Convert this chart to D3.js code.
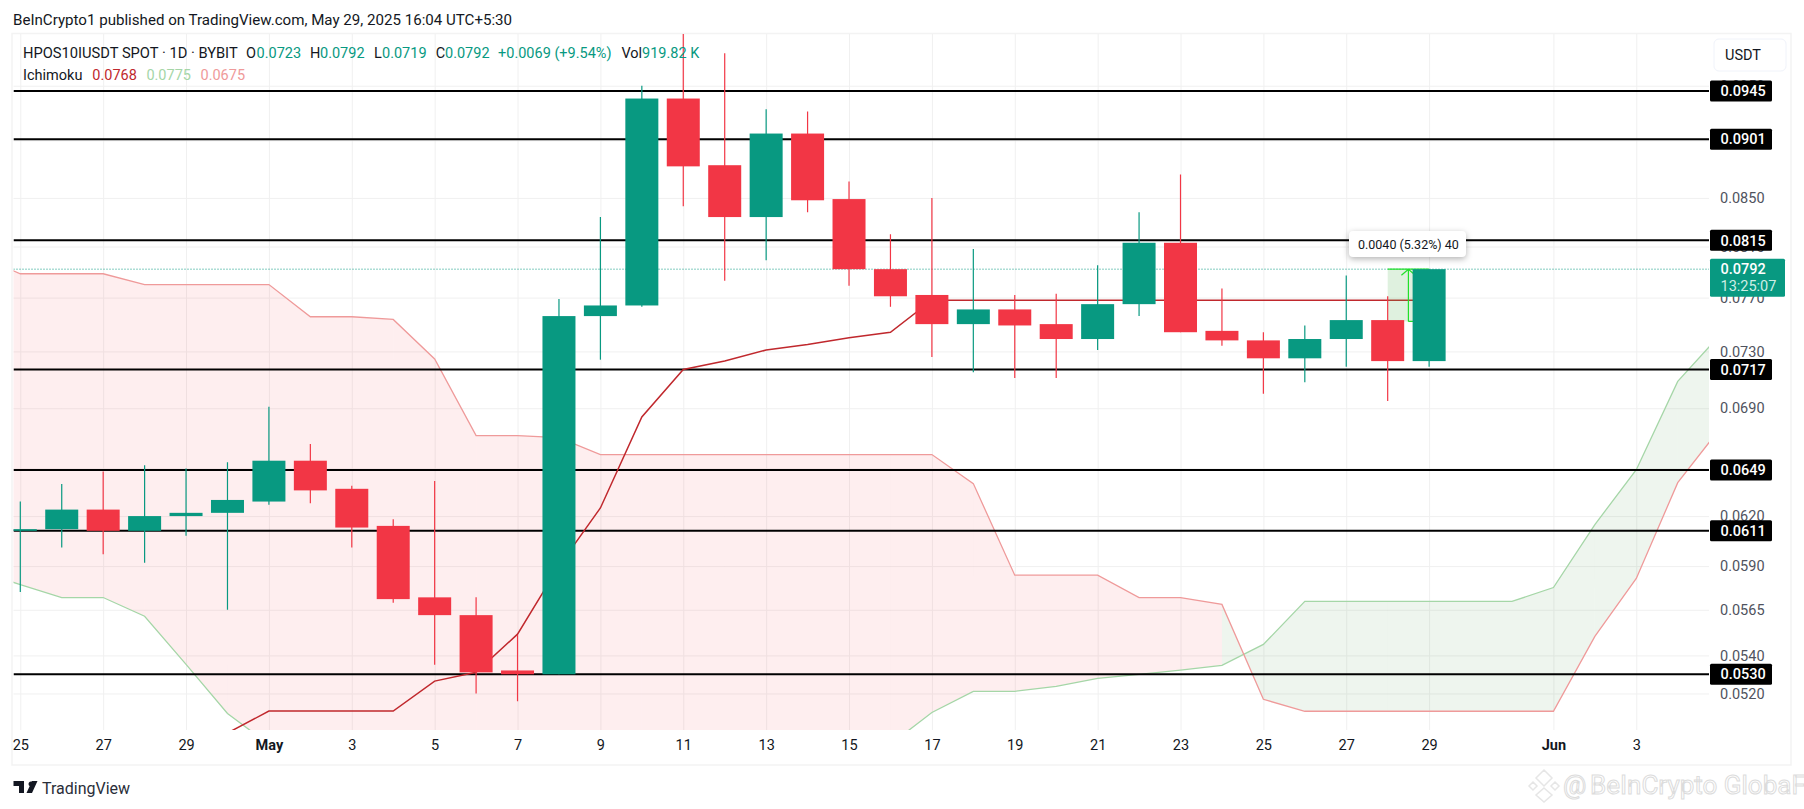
<!DOCTYPE html>
<html>
<head>
<meta charset="utf-8">
<script src="https://cdn.jsdelivr.net/npm/d3@7"></script>
<style>
  html, body { margin: 0; padding: 0; background: #fff; }
  svg { display: block; }
  text { font-family: Roboto, sans-serif; }
</style>
</head>
<body>
<div id="chart"></div>
<script>
// Daily candles, Apr 25 to May 29
var candleStart = '2025-04-25';
var opens = [0.0611, 0.0612, 0.0624, 0.0611, 0.0620, 0.0622, 0.0629, 0.0655, 0.0637, 0.0614, 0.0572, 0.0562, 0.0532, 0.0530, 0.0756, 0.0764, 0.0938, 0.0878, 0.0834, 0.0906, 0.0849, 0.0792, 0.0772, 0.0750, 0.0761, 0.0750, 0.0739, 0.0765, 0.0813, 0.0745, 0.0738, 0.0725, 0.0739, 0.0753, 0.0723];
var highs = [0.0629, 0.0640, 0.0648, 0.0652, 0.0650, 0.0654, 0.0691, 0.0666, 0.0639, 0.0618, 0.0642, 0.0572, 0.0551, 0.0769, 0.0834, 0.0950, 0.1000, 0.0981, 0.0928, 0.0926, 0.0864, 0.0820, 0.0850, 0.0808, 0.0772, 0.0773, 0.0795, 0.0838, 0.0870, 0.0777, 0.0744, 0.0749, 0.0787, 0.0771, 0.0792];
var lows = [0.0575, 0.0601, 0.0597, 0.0592, 0.0608, 0.0565, 0.0627, 0.0628, 0.0601, 0.0569, 0.0535, 0.0520, 0.0516, 0.0530, 0.0724, 0.0763, 0.0843, 0.0783, 0.0799, 0.0838, 0.0779, 0.0763, 0.0726, 0.0715, 0.0711, 0.0711, 0.0731, 0.0756, 0.0744, 0.0734, 0.0700, 0.0708, 0.0719, 0.0695, 0.0719];
var closes = [0.0612, 0.0624, 0.0611, 0.0620, 0.0622, 0.0630, 0.0655, 0.0636, 0.0613, 0.0571, 0.0562, 0.0531, 0.0530, 0.0756, 0.0764, 0.0938, 0.0877, 0.0834, 0.0906, 0.0848, 0.0792, 0.0771, 0.0750, 0.0761, 0.0749, 0.0739, 0.0765, 0.0813, 0.0744, 0.0738, 0.0725, 0.0739, 0.0753, 0.0723, 0.0792];

// Ichimoku base line, Apr 30 to May 29
var baseStart = '2025-04-30';
var baseLine = [0.05000, 0.05110, 0.05110, 0.05110, 0.05110, 0.05264, 0.05310, 0.05515, 0.05900, 0.06250, 0.06840, 0.07170, 0.07230, 0.07310, 0.07350, 0.07400, 0.07440, 0.07680, 0.07680, 0.07680, 0.07680, 0.07680, 0.07680, 0.07680, 0.07680, 0.07680, 0.07680, 0.07680, 0.07680, 0.07680];

// Ichimoku cloud, Apr 24 to Jun 5
var cloudStart = '2025-04-24';
var leadA = [0.05868, 0.05793, 0.05719, 0.05719, 0.05614, 0.05352, 0.05098, 0.04944, 0.04944, 0.04944, 0.04944, 0.04944, 0.04944, 0.04944, 0.04944, 0.04944, 0.04944, 0.04944, 0.04944, 0.04944, 0.04944, 0.04944, 0.04944, 0.05103, 0.05211, 0.05211, 0.05237, 0.05278, 0.05299, 0.05322, 0.05347, 0.05459, 0.05697, 0.05697, 0.05697, 0.05697, 0.05697, 0.05697, 0.05776, 0.06148, 0.06492, 0.07086, 0.07414];
var leadB = [0.08025, 0.07884, 0.07884, 0.07884, 0.07800, 0.07800, 0.07800, 0.07800, 0.07555, 0.07555, 0.07535, 0.07245, 0.06715, 0.06715, 0.06702, 0.06590, 0.06590, 0.06590, 0.06590, 0.06590, 0.06590, 0.06590, 0.06590, 0.06590, 0.06403, 0.05847, 0.05847, 0.05847, 0.05719, 0.05719, 0.05680, 0.05170, 0.05109, 0.05109, 0.05109, 0.05109, 0.05109, 0.05109, 0.05109, 0.05503, 0.05828, 0.06409, 0.06755];

// Axis ticks
var priceTicks = [0.0950, 0.0900, 0.0850, 0.0810, 0.0770, 0.0730, 0.0690, 0.0650, 0.0620, 0.0590, 0.0565, 0.0540, 0.0520];
var dateTicks = ['2025-04-25', '2025-04-27', '2025-04-29', '2025-05-01', '2025-05-03', '2025-05-05', '2025-05-07', '2025-05-09', '2025-05-11', '2025-05-13', '2025-05-15', '2025-05-17', '2025-05-19', '2025-05-21', '2025-05-23', '2025-05-25', '2025-05-27', '2025-05-29', '2025-06-01', '2025-06-03'];

// Support and resistance levels drawn by hand on the chart
var levels = [0.0945, 0.0901, 0.0815, 0.0717, 0.0649, 0.0611, 0.0530];
var lastPrice = 0.0792;
var countdown = '13:25:07';
var measureFrom = 0.0752;
var measureDates = ['2025-05-28', '2025-05-29'];

var GREEN = '#089981', RED = '#f23645', INK = '#131722';
var paneLeft = 13.5, paneRight = 1709, paneTop = 34, paneBottom = 730;

var parseDay = d3.utcParse('%Y-%m-%d');
var x = d3.scaleUtc()
  .domain([parseDay('2025-04-25'), parseDay('2025-06-03')])
  .range([20.3, 1636.3]);
var y = d3.scaleLog()
  .domain([0.05015, 0.1])
  .range([paneBottom, paneTop]);

function dayOffset(start, i) {
  return d3.utcDay.offset(parseDay(start), i);
}

var svg = d3.select('#chart').append('svg')
  .attr('width', 1804)
  .attr('height', 809);

svg.append('clipPath').attr('id', 'pane')
  .append('rect')
  .attr('x', paneLeft).attr('y', paneTop)
  .attr('width', paneRight - paneLeft).attr('height', paneBottom - paneTop);

// Outer frame
svg.append('rect')
  .attr('x', 12).attr('y', 33.5)
  .attr('width', 1779).attr('height', 731.5)
  .attr('fill', 'none')
  .attr('stroke', '#f3f3f3')
  .attr('stroke-width', 1.5);

// Grid
svg.append('g')
  .attr('class', 'grid')
  .attr('transform', `translate(${paneLeft},0)`)
  .call(d3.axisLeft(y).tickValues(priceTicks).tickSize(-(paneRight - paneLeft)).tickFormat(''));
svg.append('g')
  .attr('class', 'grid')
  .attr('transform', `translate(0,${paneBottom})`)
  .call(d3.axisBottom(x).tickValues(dateTicks.map(parseDay)).tickSize(-(paneBottom - paneTop)).tickFormat(''));
svg.selectAll('.grid .domain').remove();
svg.selectAll('.grid line').attr('stroke', '#f0f0f0').attr('stroke-width', 1);

var plot = svg.append('g').attr('clip-path', 'url(#pane)');

// Cloud, one segment per day, coloured by the later bar
var cloudArea = d3.area()
  .x((d) => x(d.date))
  .y0((d) => y(d.a))
  .y1((d) => y(d.b));
var cloud = leadA.map((a, i) => ({ date: dayOffset(cloudStart, i), a: a, b: leadB[i] }));
plot.append('g')
  .selectAll('path')
  .data(d3.pairs(cloud))
  .join('path')
  .attr('d', (d) => cloudArea(d))
  .attr('fill', (d) => (d[1].a > d[1].b ? '#388e3c' : RED))
  .attr('fill-opacity', 0.088);

var cloudLine = d3.line().x((d) => x(d.date));
plot.append('path')
  .attr('d', cloudLine.y((d) => y(d.a))(cloud))
  .attr('fill', 'none')
  .attr('stroke', '#a5d6a7')
  .attr('stroke-width', 1.3);
plot.append('path')
  .attr('d', cloudLine.y((d) => y(d.b))(cloud))
  .attr('fill', 'none')
  .attr('stroke', '#ef9a9a')
  .attr('stroke-width', 1.3);

// Horizontal levels
plot.append('g')
  .selectAll('line')
  .data(levels)
  .join('line')
  .attr('x1', paneLeft).attr('x2', paneRight)
  .attr('y1', (d) => y(d)).attr('y2', (d) => y(d))
  .attr('stroke', '#000')
  .attr('stroke-width', 2);

// Last price line
plot.append('line')
  .attr('x1', paneLeft).attr('x2', paneRight)
  .attr('y1', y(lastPrice)).attr('y2', y(lastPrice))
  .attr('stroke', GREEN)
  .attr('stroke-width', 1)
  .attr('stroke-dasharray', '1 2');

// Base line
plot.append('path')
  .attr('d', d3.line()
    .x((d, i) => x(dayOffset(baseStart, i)))
    .y((d) => y(d))(baseLine))
  .attr('fill', 'none')
  .attr('stroke', '#c0282d')
  .attr('stroke-width', 1.5);

// Measure tool sits under the candles
var mx0 = x(parseDay(measureDates[0])), mx1 = x(parseDay(measureDates[1]));
var mxm = (mx0 + mx1) / 2;
var measure = plot.append('g');
measure.append('rect')
  .attr('x', mx0).attr('y', y(lastPrice))
  .attr('width', mx1 - mx0).attr('height', y(measureFrom) - y(lastPrice))
  .attr('fill', '#4caf50')
  .attr('fill-opacity', 0.18);
measure.append('path')
  .attr('d', `M${mx0},${y(lastPrice)}H${mx1}M${mxm},${y(measureFrom)}H${mx1}M${mxm},${y(measureFrom)}V${y(lastPrice)}M${mxm - 7},${y(lastPrice) + 6}L${mxm},${y(lastPrice)}L${mxm + 7},${y(lastPrice) + 6}`)
  .attr('fill', 'none')
  .attr('stroke', '#22e02a')
  .attr('stroke-width', 1.2);

// Candles
var candles = opens.map((o, i) => ({
  date: dayOffset(candleStart, i), open: o, high: highs[i], low: lows[i], close: closes[i]
}));
var bodyWidth = 33;
var candle = plot.append('g')
  .selectAll('g')
  .data(candles)
  .join('g')
  .attr('fill', (d) => (d.close >= d.open ? GREEN : RED))
  .attr('stroke', (d) => (d.close >= d.open ? GREEN : RED));
candle.append('line')
  .attr('x1', (d) => x(d.date)).attr('x2', (d) => x(d.date))
  .attr('y1', (d) => y(d.high)).attr('y2', (d) => y(d.low))
  .attr('stroke-width', 1.2);
candle.append('rect')
  .attr('x', (d) => x(d.date) - bodyWidth / 2)
  .attr('y', (d) => y(Math.max(d.open, d.close)))
  .attr('width', bodyWidth)
  .attr('height', (d) => Math.max(1.5, Math.abs(y(d.open) - y(d.close))))
  .attr('stroke', 'none');

// Axes
var priceAxis = svg.append('g')
  .attr('transform', `translate(${paneRight},0)`)
  .call(d3.axisRight(y).tickValues(priceTicks).tickSize(0).tickPadding(11).tickFormat(d3.format('.4f')));
var dateAxis = svg.append('g')
  .attr('transform', `translate(0,${paneBottom})`)
  .call(d3.axisBottom(x).tickValues(dateTicks.map(parseDay)).tickSize(0).tickPadding(10).tickFormat((d) => {
    if (d.getUTCDate() === 1) return d3.utcFormat('%b')(d);
    return d.getUTCDate();
  }));
priceAxis.select('.domain').remove();
dateAxis.select('.domain').remove();
priceAxis.selectAll('text').attr('font-size', 14.5).attr('font-family', null).attr('fill', '#50535e');
dateAxis.selectAll('text')
  .attr('font-size', 14.5).attr('font-family', null).attr('fill', INK)
  .attr('font-weight', (d) => (d.getUTCDate() === 1 ? 700 : 400));

// Level labels on the price axis
var levelLabel = svg.append('g')
  .selectAll('g')
  .data(levels)
  .join('g')
  .attr('transform', (d) => `translate(${paneRight + 1},${y(d)})`);
levelLabel.append('rect')
  .attr('y', -10.5).attr('width', 62).attr('height', 21).attr('rx', 1.5)
  .attr('fill', '#000');
levelLabel.append('text')
  .attr('x', 10.5).attr('dy', '0.36em')
  .attr('font-size', 14.5).attr('font-weight', 500)
  .attr('fill', '#fff')
  .text(d3.format('.4f'));

// Last price label
var lastLabel = svg.append('g').attr('transform', `translate(${paneRight + 1},${y(lastPrice)})`);
lastLabel.append('rect')
  .attr('y', -10.5).attr('width', 75).attr('height', 38).attr('rx', 1.5)
  .attr('fill', GREEN);
lastLabel.append('text')
  .attr('x', 10.5).attr('dy', '0.36em')
  .attr('font-size', 14.5).attr('font-weight', 500).attr('fill', '#fff')
  .text(d3.format('.4f')(lastPrice));
lastLabel.append('text')
  .attr('x', 10.5).attr('y', 17).attr('dy', '0.36em')
  .attr('font-size', 14.5).attr('fill', '#cfeee6')
  .text(countdown);

// Unit button
svg.append('rect')
  .attr('x', 1714).attr('y', 39).attr('width', 72).attr('height', 32).attr('rx', 5)
  .attr('fill', '#fff').attr('stroke', '#f0f3fa');
svg.append('text')
  .attr('x', 1725).attr('y', 55).attr('dy', '0.36em')
  .attr('font-size', 14.5).attr('fill', INK)
  .text('USDT');

// Measure tooltip
var tip = svg.append('g');
tip.append('rect')
  .attr('x', 1349).attr('y', 231).attr('width', 117).attr('height', 26).attr('rx', 4)
  .attr('fill', '#fff')
  .style('filter', 'drop-shadow(0 2px 3px rgba(0,0,0,0.3))');
tip.append('text')
  .attr('x', 1358).attr('y', 244).attr('dy', '0.36em')
  .attr('font-size', 12.5).attr('fill', INK)
  .text('0.0040 (5.32%) 40');

// Header and legend
function caption(px, py, str, color, size) {
  svg.append('text')
    .attr('x', px).attr('y', py).attr('dy', '0.36em')
    .attr('font-size', size || 14.5).attr('fill', color)
    .text(str);
}
caption(13, 20, 'BeInCrypto1 published on TradingView.com, May 29, 2025 16:04 UTC+5:30', INK, 15.1);
caption(23, 53, 'HPOS10IUSDT SPOT · 1D · BYBIT', INK, 14.7);
caption(246, 53, 'O', INK);
caption(256.6, 53, '0.0723', GREEN);
caption(310, 53, 'H', INK);
caption(320, 53, '0.0792', GREEN);
caption(374, 53, 'L', INK);
caption(382, 53, '0.0719', GREEN);
caption(435.7, 53, 'C', INK);
caption(445, 53, '0.0792', GREEN);
caption(498, 53, '+0.0069 (+9.54%)', GREEN);
caption(621.4, 53, 'Vol', INK);
caption(642, 53, '919.82 K', GREEN);
caption(23, 75, 'Ichimoku', INK);
caption(92.3, 75, '0.0768', '#c0282d');
caption(146.4, 75, '0.0775', '#a5d6a7');
caption(200.5, 75, '0.0675', '#ef9a9a');

// Footer logo and name
svg.append('path')
  .attr('d', 'M13.5 781H24V793H19V786H13.5ZM28.5 784a2.6 2.6 0 1 1 0 .01ZM32 781H37.5L32 793H26.5Z')
  .attr('fill', INK);
caption(42, 788, 'TradingView', '#2a2e39', 16);

// Watermark
svg.append('path')
  .attr('d', 'M1544 770L1552 778L1544 786L1536 778ZM1533 782L1537 786L1533 790L1529 786ZM1555 782L1559 786L1555 790L1551 786ZM1544 788L1552 795L1544 802L1536 795Z')
  .attr('fill', '#fff')
  .attr('stroke', '#e6e6e6')
  .attr('stroke-width', 1.5);
svg.append('text')
  .attr('x', 1563).attr('y', 794)
  .attr('font-size', 26)
  .attr('fill', '#fff')
  .attr('stroke', '#dcdcdc')
  .attr('stroke-width', 1)
  .text('@');
svg.append('text')
  .attr('x', 1590).attr('y', 794)
  .attr('font-size', 26)
  .attr('fill', '#fff')
  .attr('stroke', '#dcdcdc')
  .attr('stroke-width', 1)
  .text('BeInCrypto GlobaF');
</script>
</body>
</html>
